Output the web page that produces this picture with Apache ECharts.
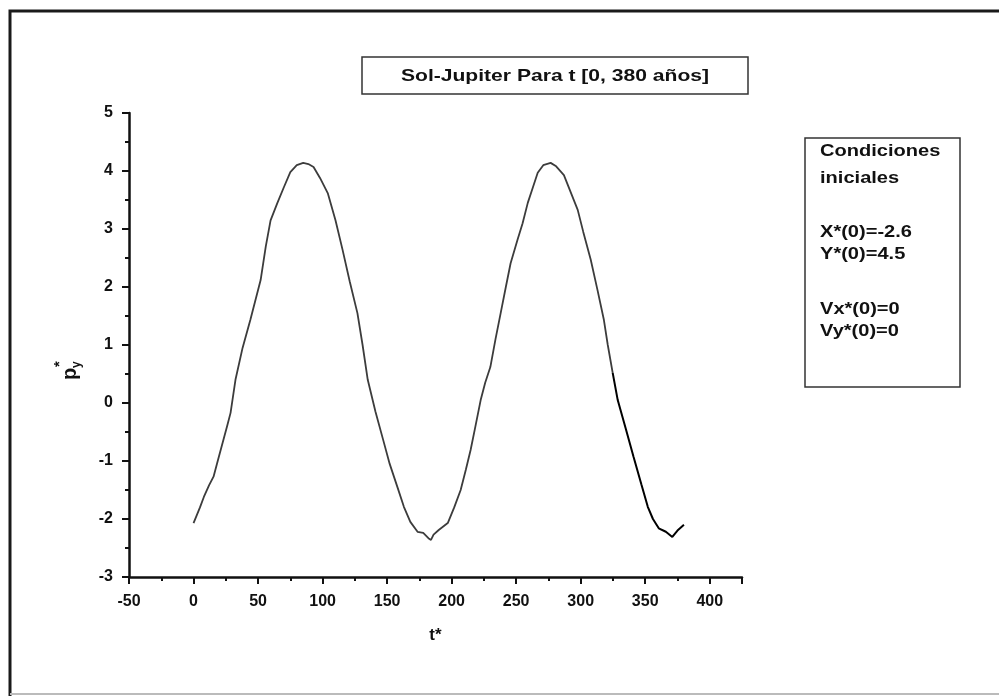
<!DOCTYPE html>
<html><head><meta charset="utf-8">
<script src="https://cdn.jsdelivr.net/npm/echarts@6/dist/echarts.min.js"></script>
<style>html,body{margin:0;padding:0;background:#fff}#c{width:999px;height:696px}</style>
</head><body><div id="c"></div>
<script>
// Data
var tFirst = [0,1.5,5,8,12,15.5,19,22.5,26,28.7,32.5,38,44,52,56,59.7,65,70,75,80,85,89,93,98,104,110,115.5,121,127,131,135,141,147,152,158,163,168,173.6,178,182,184,186,190,197,202,207,211,214.7,218,222.5,226,230,234,238,242,245.7,251,255,259,263,266.7,271,276.7,281,287,292,297.7,302,307.8,313,318,321,324.8];
var pFirst = [-2.07,-2.05,-1.8,-1.62,-1.42,-1.27,-0.98,-0.69,-0.4,-0.17,0.4,0.95,1.43,2.12,2.7,3.15,3.45,3.72,3.98,4.1,4.14,4.12,4.07,3.88,3.62,3.15,2.64,2.1,1.55,1.0,0.4,-0.15,-0.64,-1.05,-1.45,-1.79,-2.05,-2.22,-2.24,-2.33,-2.36,-2.27,-2.19,-2.07,-1.8,-1.5,-1.15,-0.81,-0.45,0.05,0.35,0.62,1.1,1.55,2.0,2.41,2.81,3.1,3.45,3.72,3.97,4.1,4.14,4.08,3.93,3.65,3.33,2.95,2.47,1.95,1.43,1.0,0.52];
var tLast = [324.8,328.7,335,341,347,352,356,360.5,366,371,375,380];
var pLast = [0.52,0.05,-0.45,-0.93,-1.4,-1.79,-2.0,-2.16,-2.22,-2.31,-2.2,-2.1];
var titleText = 'Sol-Jupiter Para t [0, 380 años]';
var boxLines = ['Condiciones','iniciales','','X*(0)=-2.6','Y*(0)=4.5','','Vx*(0)=0','Vy*(0)=0'];
var xName = 't*';

function zip(a,b){return a.map(function(v,i){return [v,b[i]];});}
var FONT = '"Liberation Sans", Arial, sans-serif';
var chart = echarts.init(document.getElementById('c'), null, {renderer:'canvas'});

var boxY = [151,178,null,232,254,null,309,331];
var boxTexts = [];
boxLines.forEach(function(s,i){
  if(!s) return;
  boxTexts.push({type:'text', x:820, y:boxY[i], scaleX:1.18,
    style:{text:s, font:'bold 17px '+FONT, fill:'#111', textVerticalAlign:'middle', verticalAlign:'middle'}});
});

chart.setOption({
  animation:false,
  backgroundColor:'#fff',
  grid:{left:129, top:113, right:257, bottom:119, containLabel:false},
  xAxis:{type:'value', min:-50, max:425, interval:50,
    name:xName, nameLocation:'middle', nameGap:50,
    nameTextStyle:{fontFamily:FONT, fontWeight:'bold', fontSize:17, color:'#111'},
    axisLine:{show:true, onZero:false, lineStyle:{color:'#111', width:2.5}},
    axisTick:{show:true, length:7, lineStyle:{color:'#111', width:2}},
    minorTick:{show:true, splitNumber:2, length:4, lineStyle:{color:'#111', width:2}},
    splitLine:{show:false},
    axisLabel:{margin:17, fontFamily:FONT, fontWeight:'bold', fontSize:16, color:'#111',
      formatter:function(v){return (v%50===0)?String(v):'';}}
  },
  yAxis:{type:'value', min:-3, max:5, interval:1,
    axisLine:{show:true, onZero:false, lineStyle:{color:'#111', width:2.5}},
    axisTick:{show:true, length:7, lineStyle:{color:'#111', width:2}},
    minorTick:{show:true, splitNumber:2, length:4, lineStyle:{color:'#111', width:2}},
    splitLine:{show:false},
    axisLabel:{margin:16, fontFamily:FONT, fontWeight:'bold', fontSize:16, color:'#111'}
  },
  series:[
    {type:'line', data:zip(tFirst,pFirst), showSymbol:false, symbol:'none',
      lineStyle:{color:'#3c3c3c', width:1.8}},
    {type:'line', data:zip(tLast,pLast), showSymbol:false, symbol:'none',
      lineStyle:{color:'#000', width:2}}
  ],
  graphic:[
    {type:'polyline', shape:{points:[[10,696],[10,11],[999,11]]}, style:{fill:'none', stroke:'#1a1a1a', lineWidth:3}},
    {type:'line', shape:{x1:10,y1:694,x2:999,y2:694}, style:{stroke:'#bbb', lineWidth:2}},
    {type:'rect', shape:{x:362,y:57,width:386,height:37}, style:{fill:'#fff', stroke:'#333', lineWidth:1.5}},
    {type:'text', x:555, y:76, scaleX:1.24,
      style:{text:titleText, font:'bold 17px '+FONT, fill:'#111', align:'center', textAlign:'center', verticalAlign:'middle', textVerticalAlign:'middle'}},
    {type:'rect', shape:{x:805,y:138,width:155,height:249}, style:{fill:'#fff', stroke:'#333', lineWidth:1.5}}
  ].concat(boxTexts).concat([
    {type:'group', x:70, y:380, rotation:Math.PI/2, children:[
      {type:'text', x:0, y:0, style:{text:'p', font:'bold 20px '+FONT, fill:'#111', verticalAlign:'middle', textVerticalAlign:'middle'}},
      {type:'text', x:12, y:7, style:{text:'y', font:'bold 12px '+FONT, fill:'#111', verticalAlign:'middle', textVerticalAlign:'middle'}},
      {type:'text', x:13, y:-10, style:{text:'*', font:'bold 15px '+FONT, fill:'#111', verticalAlign:'middle', textVerticalAlign:'middle'}}
    ]}
  ])
});
</script></body></html>
